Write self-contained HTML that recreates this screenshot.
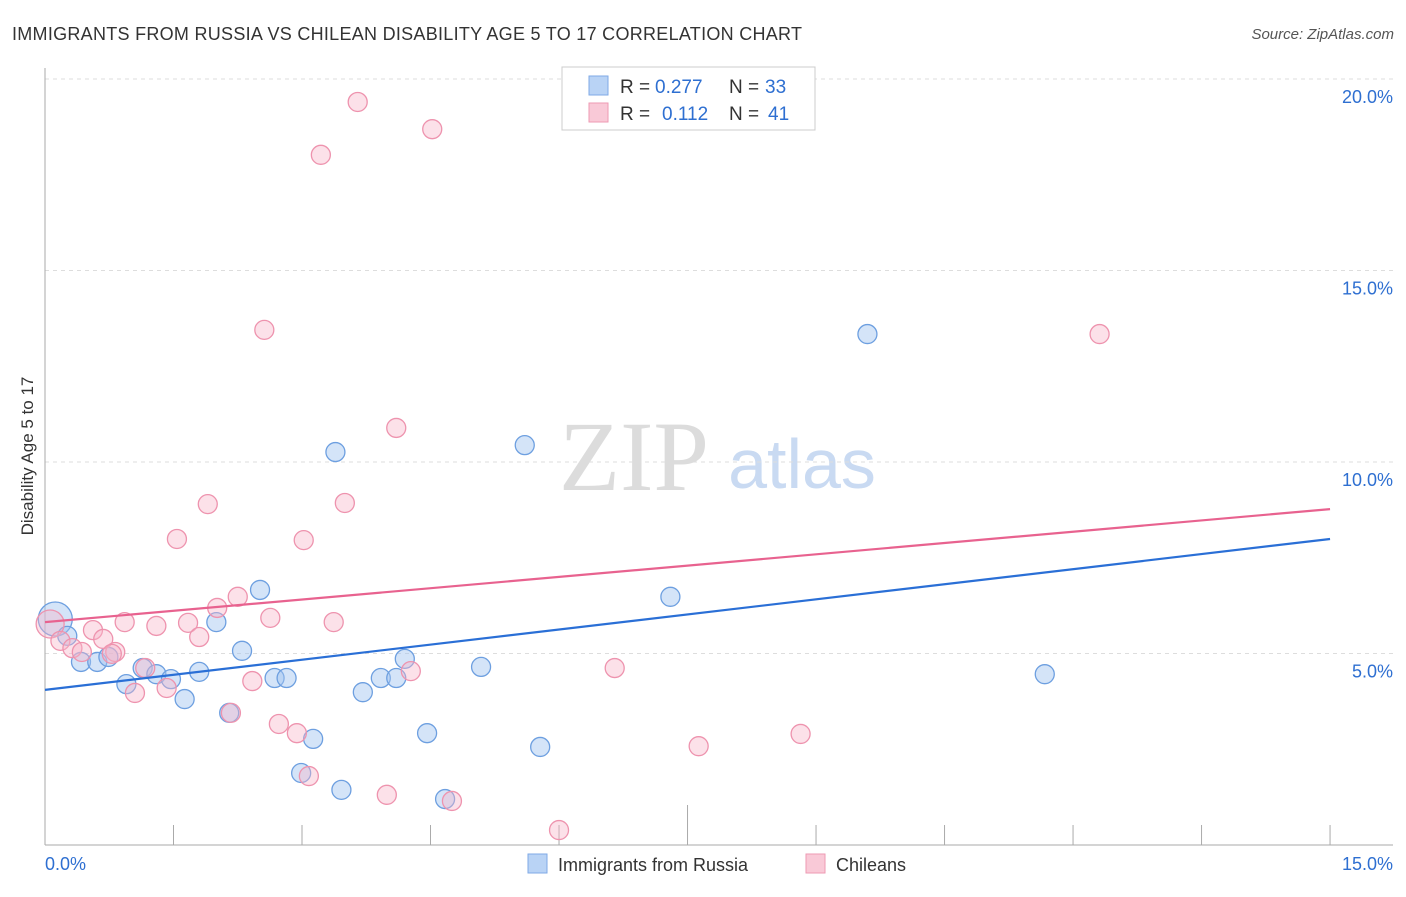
<!DOCTYPE html>
<html><head><meta charset="utf-8"><style>
body{margin:0;background:#fff;font-family:"Liberation Sans",sans-serif;}
</style></head><body>
<svg id="c" width="1406" height="892" viewBox="0 0 1406 892" xmlns="http://www.w3.org/2000/svg" font-family="Liberation Sans, sans-serif">
<text x="12" y="40" font-size="18" fill="#333" textLength="790">IMMIGRANTS FROM RUSSIA VS CHILEAN DISABILITY AGE 5 TO 17 CORRELATION CHART</text>
<text x="1394" y="39" font-size="15" fill="#555" text-anchor="end" font-style="italic">Source: ZipAtlas.com</text>
<text transform="translate(33,456) rotate(-90)" font-size="17" fill="#333" text-anchor="middle">Disability Age 5 to 17</text>
<g>
<text x="634" y="490" font-size="100" fill="#dcdcdc" text-anchor="middle" style="font-family:'Liberation Serif',serif">ZIP</text>
<text x="802" y="488" font-size="70" fill="#c9daf2" text-anchor="middle">atlas</text>
</g>
<g id="grid"></g><g id="axes"></g><g id="pts"></g><g id="lines"></g>
<g>
<rect x="562" y="67" width="253" height="63" fill="#fff" stroke="#ccc"/>
<rect x="589" y="76" width="19" height="19" fill="#b9d3f5" stroke="#7fa9e6"/>
<rect x="589" y="103" width="19" height="19" fill="#f9c9d7" stroke="#ee9ab3"/>
<text x="620" y="93" font-size="19" fill="#333">R =</text>
<text x="655" y="93" font-size="19" fill="#2e6fd1">0.277</text>
<text x="729" y="93" font-size="19" fill="#333">N =</text>
<text x="765" y="93" font-size="19" fill="#2e6fd1">33</text>
<text x="620" y="120" font-size="19" fill="#333">R =</text>
<text x="662" y="120" font-size="19" fill="#2e6fd1">0.112</text>
<text x="729" y="120" font-size="19" fill="#333">N =</text>
<text x="768" y="120" font-size="19" fill="#2e6fd1">41</text>
</g>
<g>
<rect x="528" y="854" width="19" height="19" fill="#b9d3f5" stroke="#7fa9e6"/>
<text x="558" y="871" font-size="18" fill="#333">Immigrants from Russia</text>
<rect x="806" y="854" width="19" height="19" fill="#f9c9d7" stroke="#ee9ab3"/>
<text x="836" y="871" font-size="18" fill="#333">Chileans</text>
</g>
</svg>
<script>
const blueX=[0.12,0.26,0.42,0.61,0.74,0.95,1.14,1.30,1.47,1.63,1.80,2.00,2.15,2.30,2.51,2.68,2.82,2.99,3.13,3.39,3.46,3.71,3.92,4.10,4.20,4.46,4.67,5.09,5.60,5.78,7.30,9.60,11.67];
const blueY=[5.90,5.46,4.78,4.78,4.91,4.20,4.62,4.46,4.33,3.81,4.52,5.82,3.45,5.07,6.66,4.36,4.36,1.88,2.77,10.26,1.44,3.99,4.36,4.36,4.86,2.92,1.20,4.65,10.44,2.56,6.48,13.34,4.46];
const pinkX=[0.06,0.18,0.32,0.43,0.56,0.68,0.82,0.93,1.05,1.17,1.30,1.42,1.54,1.67,1.80,1.90,2.01,2.17,2.25,2.42,2.56,2.63,2.73,2.94,3.02,3.08,3.22,3.37,3.50,3.65,3.99,4.10,4.27,4.52,4.75,6.00,6.65,7.63,8.82,12.31,0.78];
const pinkY=[5.77,5.33,5.14,5.04,5.61,5.38,5.04,5.82,3.97,4.62,5.72,4.10,7.99,5.80,5.43,8.90,6.19,3.45,6.48,4.28,13.45,5.93,3.16,2.92,7.96,1.80,18.02,5.82,8.93,19.40,1.31,10.89,4.54,18.69,1.15,0.39,4.62,2.58,2.90,13.34,4.99];
const blueLine=[4.05,7.99];
const pinkLine=[5.82,8.77];
const yTicks=[5,10,15,20];
const yTickLabels=["5.0%","10.0%","15.0%","20.0%"];
const xs=v=>45+v*85.67, ys=v=>845-v*38.3;
const NS="http://www.w3.org/2000/svg";
function mk(p,t,a){const e=document.createElementNS(NS,t);for(const k in a)e.setAttribute(k,a[k]);p.appendChild(e);return e;}
const g=document.getElementById('grid'),ax=document.getElementById('axes'),pts=document.getElementById('pts'),ln=document.getElementById('lines');
yTicks.forEach((t,i)=>{
 const l=mk(g,'line',{x1:45,x2:1393,y1:ys(t),y2:ys(t),stroke:'#ddd','stroke-dasharray':'4,4'});
 
 
 const tx=mk(g,'text',{x:1393,y:ys(t)+24,'font-size':18,fill:'#2e6fd1','text-anchor':'end'});
 tx.textContent=yTickLabels[i];
 
 
});
mk(ax,'line',{x1:45,x2:45,y1:68,y2:845,stroke:'#aaa'});
mk(ax,'line',{x1:45,x2:1393,y1:845,y2:845,stroke:'#aaa'});
for(let i=1;i<=10;i++){const x=xs(i*1.5);const t=mk(ax,'line',{x1:x,x2:x,y1:(i==5?805:825),y2:845,stroke:'#aaa'});
 
 }
const x0=mk(ax,'text',{x:45,y:870,'font-size':18,fill:'#2e6fd1'});x0.textContent='0.0%';


const x1=mk(ax,'text',{x:1393,y:870,'font-size':18,fill:'#2e6fd1','text-anchor':'end'});x1.textContent='15.0%';


function dots(X,Y,f,s,nm){X.forEach((x,i)=>{const r=(i==0)?(nm=='russia-point'?17:14):9.5;
 const c=mk(pts,'circle',{cx:xs(x),cy:ys(Y[i]),r:r,fill:f,stroke:s,'stroke-width':1.3});
 
 });}
dots(blueX,blueY,'rgba(160,195,240,0.45)','#6d9fe0','russia-point');
dots(pinkX,pinkY,'rgba(248,180,200,0.4)','#ee93ae','chilean-point');
const bl=mk(ln,'line',{x1:xs(0),y1:ys(blueLine[0]),x2:xs(15),y2:ys(blueLine[1]),stroke:'#2a6fd6','stroke-width':2.2});


const pl=mk(ln,'line',{x1:xs(0),y1:ys(pinkLine[0]),x2:xs(15),y2:ys(pinkLine[1]),stroke:'#e8628f','stroke-width':2.2});


</script>
</body></html>
